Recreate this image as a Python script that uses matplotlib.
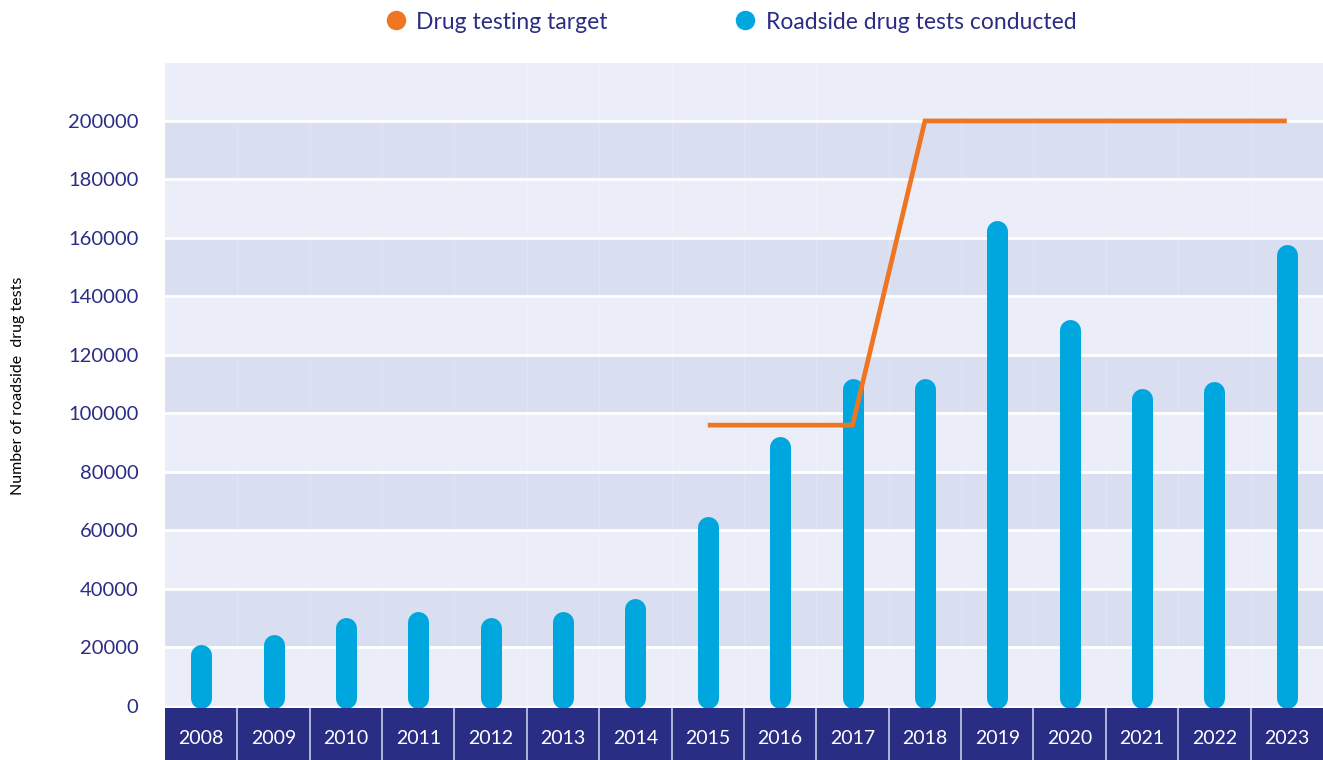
import matplotlib.pyplot as plt
from matplotlib.lines import Line2D

years = [str(y) for y in range(2008, 2024)]
tests = [21000, 24500, 30300, 32200, 30300, 32200, 36600, 64700,
         92100, 111800, 111800, 166000, 132000, 108400, 110800, 157800]
target_years = ["2015", "2016", "2017", "2018", "2019", "2020", "2021", "2022", "2023"]
target = [96000, 96000, 96000, 200000, 200000, 200000, 200000, 200000, 200000]
yticks = list(range(0, 200001, 20000))

navy = "#2A2D84"
blue = "#00A7DF"
orange = "#EE7623"
band_light = "#EBEDF8"
band_dark = "#DADEF1"

plt.rcParams["font.family"] = ["Lato", "DejaVu Sans"]

fig = plt.figure(figsize=(13.23, 7.6), dpi=100)
ax = fig.add_axes([0.1247, 0.0684, 0.8753, 0.8487])
ax.set_xlim(-0.5, len(years) - 0.5)
ax.set_ylim(-700, 219800)

# alternating horizontal bands with white rules between them
for k, lo in enumerate(range(0, 220000, 20000)):
    ax.axhspan(lo, lo + 20000, color=band_light if k % 2 == 0 else band_dark, lw=0, zorder=0)
for t in yticks[1:]:
    ax.axhline(t, color="white", lw=2, zorder=1)
for i in range(1, len(years)):
    ax.axvline(i - 0.5, color="white", lw=0.5, alpha=0.3, zorder=1)

# rounded bars: thick lines with round caps, shortened by the cap radius
bar_px = 21
ax_h_px = ax.get_position().height * fig.get_figheight() * fig.dpi
r = (bar_px / 2) * (219800 + 700) / ax_h_px
lw_pt = bar_px * 72 / fig.dpi
for i, v in enumerate(tests):
    ax.plot([i, i], [r - 700, v - r], color=blue, lw=lw_pt,
            solid_capstyle="round", zorder=2)

tx = [years.index(y) for y in target_years]
ax.plot(tx, target, color=orange, lw=3.4, solid_capstyle="butt",
        solid_joinstyle="miter", zorder=3)

ax.set_yticks(yticks)
ax.set_yticklabels([str(t) for t in yticks], color=navy, fontsize=14.5)
ax.tick_params(axis="y", length=0, pad=19)
ax.set_xticks([])
for s in ax.spines.values():
    s.set_visible(False)
fig.text(18 / 1323, 0.493, "Number of roadside  drug tests", fontsize=11.5,
         color="black", rotation=90, ha="center", va="center")

# navy strip with year labels
bx = fig.add_axes([0.1247, 0.0, 0.8753, 0.0684])
bx.set_xlim(-0.5, len(years) - 0.5)
bx.set_ylim(0, 1)
bx.set_facecolor(navy)
for i, y in enumerate(years):
    bx.text(i, 0.42, y, color="white", fontsize=14, ha="center", va="center")
for i in range(1, len(years)):
    bx.axvline(i - 0.5, color="#C9CCE8", lw=1.2)
bx.set_xticks([])
bx.set_yticks([])
for s in bx.spines.values():
    s.set_visible(False)

handles = [
    Line2D([], [], marker="o", ls="", color=orange, markersize=13),
    Line2D([], [], marker="o", ls="", color=blue, markersize=13),
]
leg = fig.legend(handles, ["Drug testing target", "Roadside drug tests conducted"],
                 loc="upper center", bbox_to_anchor=(0.552, 1.012), ncol=2,
                 frameon=False, fontsize=16.5, columnspacing=5.5, handletextpad=0.4,
                 handlelength=1.0)
for t in leg.get_texts():
    t.set_color(navy)

fig.savefig("out.png", dpi=100)
